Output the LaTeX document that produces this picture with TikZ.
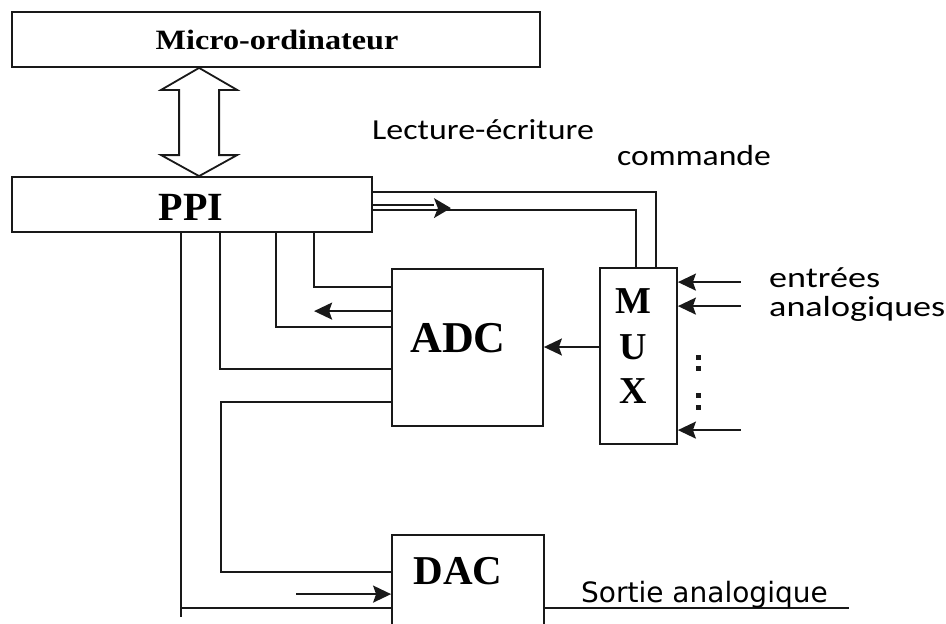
\documentclass[tikz,border=0pt]{standalone}
\usepackage{fontspec}
\setmainfont{Liberation Serif}
\newfontfamily\labfont{Carlito}
\newfontfamily\vfont{DejaVu Sans}
\usetikzlibrary{arrows.meta}
\begin{document}
\begin{tikzpicture}[x=1pt,y=-1pt,
  wire/.style={line width=1.8pt,draw=black!90},
  arr/.style={wire,-{Stealth[length=18pt,width=17pt,inset=3pt]}},
  box/.style={draw=black!90,line width=1.8pt,rectangle,inner sep=0pt,fill=none},
  serif/.style={inner sep=0pt,anchor=base,font=\bfseries},
  lab/.style={inner sep=0pt,anchor=base west}]
\useasboundingbox (0,0) rectangle (946,624);
\fill[white] (0,0) rectangle (946,624);
% boxes
\node[box,minimum width=528pt,minimum height=55pt] (micro) at (276,39.5) {};
\node[box,minimum width=360pt,minimum height=55pt] (ppi) at (192,204.5) {};
\node[box,minimum width=151pt,minimum height=157pt] (adc) at (467.5,347.5) {};
\node[box,minimum width=77pt,minimum height=176pt] (mux) at (638.5,356) {};
\node[box,minimum width=152pt,minimum height=100pt] (dac) at (468,585) {};
% box texts
\node[serif] (microl) at (277,49) {\scalebox{1.15}[1]{\fontsize{28}{28}\selectfont Micro-ordinateur}};
\node[serif] (ppil) at (191,220) {\fontsize{40}{40}\selectfont PPI};
\node[serif] (adcl) at (458,352) {\fontsize{44}{44}\selectfont ADC};
\node[serif] (dacl) at (458,584) {\fontsize{41}{41}\selectfont DAC};
\node[serif] (muxm) at (633,313) {\fontsize{38}{38}\selectfont M};
\node[serif] (muxu) at (633,359) {\fontsize{38}{38}\selectfont U};
\node[serif] (muxx) at (633,403) {\fontsize{38}{38}\selectfont X};
% bus double arrow
\coordinate (bt) at ([xshift=188pt]micro.south west);
\coordinate (bb) at ([xshift=188pt]ppi.north west);
\draw[wire,line join=miter] (bt) -- ++(38,22) -- ++(-18,0) -- ([xshift=20pt,yshift=21pt]bb)
  -- ++(18,0) -- (bb) -- ++(-38,-21) -- ++(18,0) -- ([xshift=-20pt,yshift=-22pt]bt) -- ++(-18,0) -- cycle;
% PPI -> MUX commands
\draw[wire] ([yshift=-16pt]ppi.north east) -| ([xshift=17.5pt]mux.north);
\draw[wire] ([yshift=-34pt]ppi.north east) -| ([xshift=-2.5pt]mux.north);
\coordinate (h0) at ([yshift=-29pt]ppi.north east);
\draw[wire] (h0) -- ++(61,0);
\fill[black!90] (h0) ++(61,-7) -- ++(17,10) -- ++(-17,10) -- ++(4,-10) -- cycle;
% PPI <-> ADC
\draw[wire] ([xshift=303pt]ppi.south west) |- ([yshift=-19pt]adc.north west);
\draw[wire] ([xshift=265pt]ppi.south west) |- ([yshift=-59pt]adc.north west);
\coordinate (aout) at ([yshift=-43pt]adc.north west);
\draw[arr] (aout) -- ++(-77,0);
\draw[wire] ([xshift=209pt]ppi.south west) |- ([yshift=-101pt]adc.north west);
\draw[wire] ([yshift=-134pt]adc.north west) -- ++(-170,0) |- ([yshift=-38pt]dac.north west);
% PPI -> DAC
\draw[wire] ([xshift=170pt]ppi.south west) -- ++(0,384);
\draw[wire] ([xshift=170pt]ppi.south west) |- ([yshift=-74pt]dac.north west);
\coordinate (dacin) at ([yshift=-60pt]dac.north west);
\draw[arr] ([xshift=-95pt]dacin) -- (dacin);
% MUX -> ADC
\draw[arr] ([yshift=9pt]mux.west) -- ([yshift=9pt]mux.west -| adc.east);
% analog inputs
\draw[arr] ([xshift=63pt,yshift=-15pt]mux.north east) -- ([yshift=-15pt]mux.north east);
\draw[arr] ([xshift=63pt,yshift=-39pt]mux.north east) -- ([yshift=-39pt]mux.north east);
\draw[arr] ([xshift=63pt,yshift=-163pt]mux.north east) -- ([yshift=-163pt]mux.north east);
% dots
\foreach \yy in {357,368,395,407} \fill[black!90] (695.5,\yy-2.5) rectangle (700.5,\yy+2.5);
% output
\draw[wire] ([yshift=-74pt]dac.north east) -- ++(304,0);
% labels
\node[lab] (lect) at (372,139) {\scalebox{1.17}[1]{\labfont\fontsize{29}{29}\selectfont Lecture-écriture}};
\node[lab] (cmd) at (617,165) {\scalebox{1.16}[1]{\labfont\fontsize{29}{29}\selectfont commande}};
\node[lab] (ent) at (769,287) {\scalebox{1.245}[1]{\labfont\fontsize{29}{29}\selectfont entrées}};
\node[lab] (ana) at (769,316) {\scalebox{1.245}[1]{\labfont\fontsize{29}{29}\selectfont analogiques}};
\node[lab] (sort) at (581,602) {\vfont\fontsize{28}{28}\selectfont Sortie analogique};
\end{tikzpicture}
\end{document}
